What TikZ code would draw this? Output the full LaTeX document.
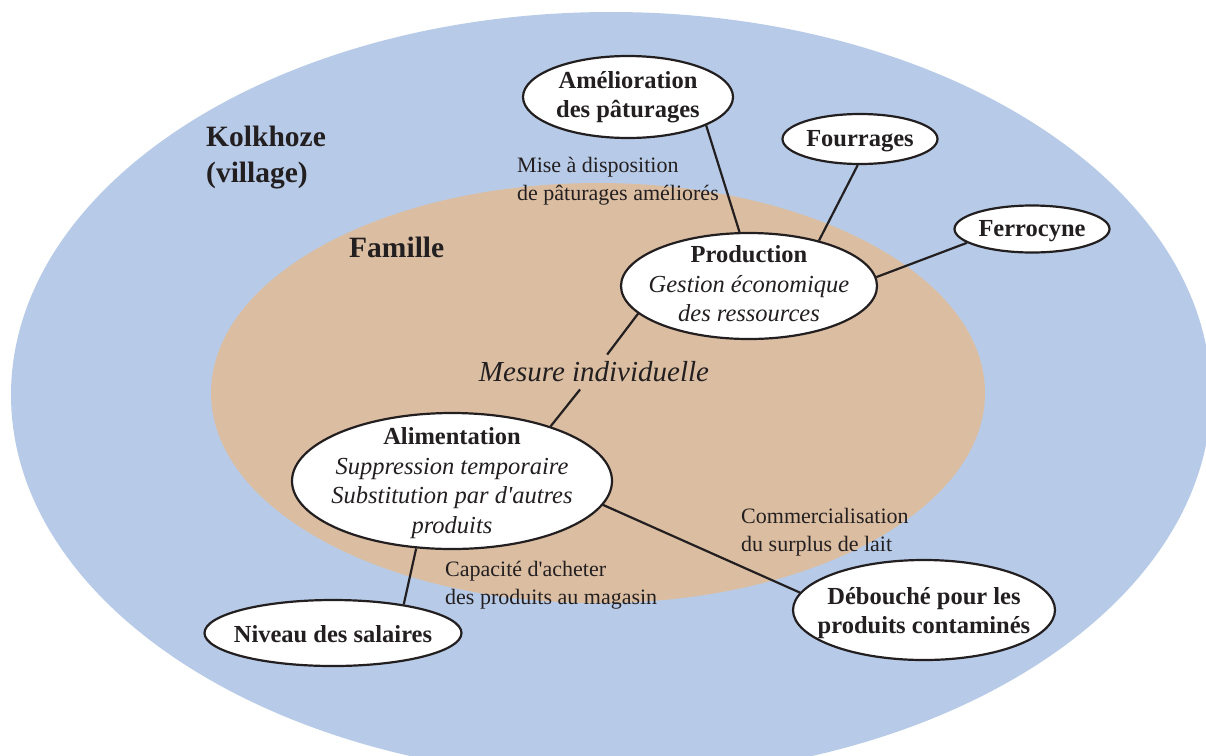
\documentclass[tikz,border=0pt]{standalone}
\usepackage{fontspec}
\setmainfont{Liberation Serif}
\usetikzlibrary{shapes.geometric}
\definecolor{outerblue}{HTML}{B7CBE8}
\definecolor{famtan}{HTML}{DBBEA2}
\definecolor{ink}{HTML}{231F20}
\begin{document}
\begin{tikzpicture}[x=1pt,y=-1pt,
  bub/.style={ellipse, draw=ink, fill=white, line width=2.2pt, inner sep=0pt},
  btxt/.style={text=ink, align=center, inner sep=0pt, font=\fontsize{24.5}{29.5}\selectfont},
  conn/.style={draw=ink, line width=2.2pt},
  lab/.style={text=ink, align=left, anchor=base west, inner sep=0pt, font=\fontsize{22}{27.5}\selectfont},
  big/.style={text=ink, align=left, anchor=base west, inner sep=0pt, font=\fontsize{29.5}{36}\selectfont\bfseries},
  mestxt/.style={text=ink, inner xsep=2pt, inner ysep=7pt, font=\fontsize{29}{34}\selectfont\itshape}]
\useasboundingbox (0,0) rectangle (1206,755);
\clip (0,0) rectangle (1206,755);
% backgrounds
\fill[outerblue] (611,395) ellipse [x radius=600pt, y radius=383pt];
\fill[famtan] (598,393) ellipse [x radius=387pt, y radius=210pt];
% region titles (base = last line)
\node[big] (kolk) at (206,182) {Kolkhoze\\(village)};
\node[big] (fam) at (349,257) {Famille};
% small labels (base = last line)
\node[lab] (mise) at (517,200) {Mise à disposition\\de pâturages améliorés};
\node[lab] (comm) at (741,551) {Commercialisation\\du surplus de lait};
\node[lab] (capa) at (445,604) {Capacité d\textquotesingle acheter\\des produits au magasin};
% bubbles
\node[bub, minimum width=210pt, minimum height=82pt] (amel) at (628,97) {};
\node[bub, minimum width=155pt, minimum height=50pt] (four) at (860,139) {};
\node[bub, minimum width=155pt, minimum height=47pt] (ferr) at (1032,229) {};
\node[bub, minimum width=256pt, minimum height=106pt] (prod) at (749,286) {};
\node[bub, minimum width=320pt, minimum height=136pt] (alim) at (452,481) {};
\node[bub, minimum width=257pt, minimum height=66pt] (niv) at (333,633) {};
\node[bub, minimum width=262pt, minimum height=100pt] (deb) at (924,610) {};
% bubble texts
\node[btxt] (amelT) at (628,97) {\bfseries Amélioration\\\bfseries des pâturages};
\node[btxt] (fourT) at (860,141) {\bfseries Fourrages};
\node[btxt] (ferrT) at (1032,231) {\bfseries Ferrocyne};
\node[btxt] (prodT) at (749,284) {\bfseries Production\\\itshape Gestion économique\\\itshape des ressources};
\node[btxt] (alimT) at (452,483) {\bfseries Alimentation\\\itshape Suppression temporaire\\\itshape Substitution par d\textquotesingle autres\\\itshape produits};
\node[btxt] (nivT) at (333,634) {\bfseries Niveau des salaires};
\node[btxt] (debT) at (924,613) {\bfseries Débouché pour les\\\bfseries produits contaminés};
% middle label
\node[mestxt] (mes) at (594,372) {Mesure individuelle};
% connectors
\draw[conn] (amel.-20) -- (prod.100);
\draw[conn] (four.265) -- (prod.33);
\draw[conn] (ferr.192) -- (prod.4);
\draw[conn] (prod.194) -- (mes);
\draw[conn] (mes) -- (alim.29);
\draw[conn] (alim.242) -- (niv.22);
\draw[conn] (alim.-9) -- (deb.172);
\end{tikzpicture}
\end{document}
